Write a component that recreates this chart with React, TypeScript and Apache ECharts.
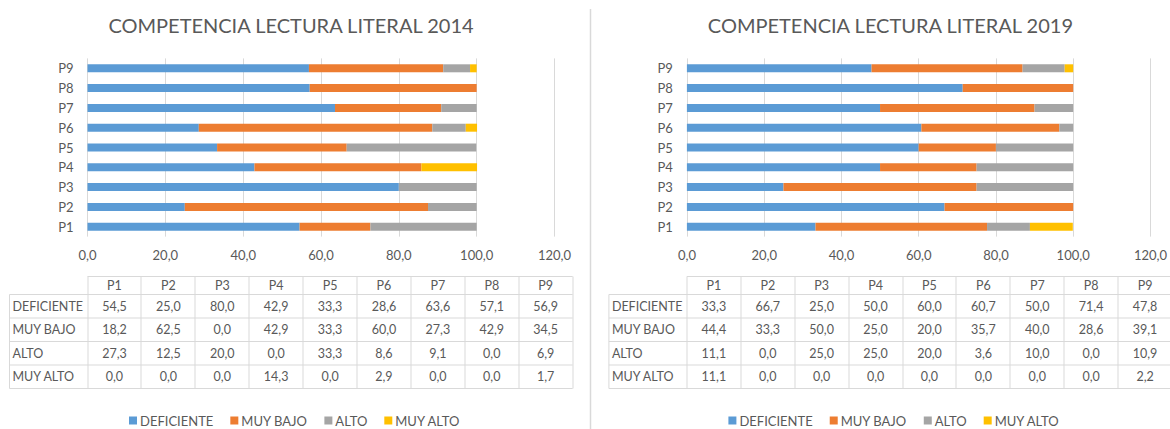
import React, { useEffect, useRef } from "react";
import * as echarts from "echarts";

const categories = ["P1", "P2", "P3", "P4", "P5", "P6", "P7", "P8", "P9"];
const seriesNames = ["DEFICIENTE", "MUY BAJO", "ALTO", "MUY ALTO"];
const seriesColors = ["#5B9BD5", "#ED7D31", "#A5A5A5", "#FFC000"];

const deficiente2014 = [54.5, 25.0, 80.0, 42.9, 33.3, 28.6, 63.6, 57.1, 56.9];
const muyBajo2014 = [18.2, 62.5, 0.0, 42.9, 33.3, 60.0, 27.3, 42.9, 34.5];
const alto2014 = [27.3, 12.5, 20.0, 0.0, 33.3, 8.6, 9.1, 0.0, 6.9];
const muyAlto2014 = [0.0, 0.0, 0.0, 14.3, 0.0, 2.9, 0.0, 0.0, 1.7];

const deficiente2019 = [33.3, 66.7, 25.0, 50.0, 60.0, 60.7, 50.0, 71.4, 47.8];
const muyBajo2019 = [44.4, 33.3, 50.0, 25.0, 20.0, 35.7, 40.0, 28.6, 39.1];
const alto2019 = [11.1, 0.0, 25.0, 25.0, 20.0, 3.6, 10.0, 0.0, 10.9];
const muyAlto2019 = [11.1, 0.0, 0.0, 0.0, 0.0, 0.0, 0.0, 0.0, 2.2];

const titles = ["COMPETENCIA LECTURA LITERAL 2014", "COMPETENCIA LECTURA LITERAL 2019"];

const FONT = "Lato, 'Noto Sans', sans-serif";
const TEXT = "#595959";
const LINE = "#D9D9D9";

const fmt = (v: number) => v.toFixed(1).replace(".", ",");

function buildTable(offsetX: number, rows: number[][]) {
  const els: any[] = [];
  const labelLeft = 9.5 + offsetX;
  const colStart = 87.5 + offsetX;
  const colW = 53.9;
  const colEnd = colStart + colW * categories.length;
  const headTop = 276.5;
  const headBottom = 294.5;
  const rowH = 23.5;
  const rowsY = [0, 1, 2, 3, 4].map((i) => headBottom + i * rowH);
  const line = (x1: number, y1: number, x2: number, y2: number) => ({
    type: "line",
    silent: true,
    shape: { x1, y1, x2, y2 },
    style: { stroke: LINE, lineWidth: 1 },
  });
  els.push(line(colStart, headTop, colEnd, headTop));
  rowsY.forEach((y) => els.push(line(labelLeft, y, colEnd, y)));
  els.push(line(labelLeft, headBottom, labelLeft, rowsY[4]));
  for (let i = 0; i <= categories.length; i++) {
    const x = Math.round(colStart + i * colW) + 0.5 - 0.5;
    els.push(line(x, headTop, x, rowsY[4]));
  }
  const txt = (text: string, x: number, y: number, align: string) => ({
    type: "text",
    silent: true,
    x,
    y,
    style: {
      text,
      fill: TEXT,
      fontSize: 12.5,
      fontFamily: FONT,
      textAlign: align,
      textVerticalAlign: "middle",
      align,
      verticalAlign: "middle",
    },
  });
  categories.forEach((c, i) => {
    els.push(txt(c, colStart + (i + 0.5) * colW, (headTop + headBottom) / 2, "center"));
  });
  seriesNames.forEach((n, r) => {
    const cy = rowsY[r] + rowH / 2;
    els.push(txt(n, labelLeft + 3, cy, "left"));
    rows[r].forEach((v, i) => {
      els.push(txt(fmt(v), colStart + (i + 0.5) * colW, cy, "center"));
    });
  });
  return els;
}

export default function App() {
  const ref = useRef<HTMLDivElement>(null);
  useEffect(() => {
    if (!ref.current) return;
    const chart = echarts.init(ref.current, undefined, { renderer: "svg" });
    const data2014 = [deficiente2014, muyBajo2014, alto2014, muyAlto2014];
    const data2019 = [deficiente2019, muyBajo2019, alto2019, muyAlto2019];
    const offsets = [0, 599.4];

    const grids = offsets.map((o) => ({
      left: 87.5 + o,
      top: 58.4,
      width: 467,
      height: 178.2,
      containLabel: false,
    }));
    const xAxes = offsets.map((_, i) => ({
      type: "value",
      gridIndex: i,
      min: 0,
      max: 120,
      interval: 20,
      axisLine: { show: false },
      axisTick: { show: false },
      splitLine: { show: true, lineStyle: { color: LINE, width: 1 } },
      axisLabel: {
        color: TEXT,
        fontSize: 13,
        fontFamily: FONT,
        margin: 12,
        formatter: (v: number) => fmt(v),
      },
    }));
    const yAxes = offsets.map((_, i) => ({
      type: "category",
      gridIndex: i,
      data: categories,
      axisLine: { show: false },
      axisTick: { show: false },
      splitLine: { show: false },
      axisLabel: { color: TEXT, fontSize: 13, fontFamily: FONT, margin: 14 },
    }));
    const series: any[] = [];
    [data2014, data2019].forEach((dataset, gi) => {
      dataset.forEach((vals, si) => {
        series.push({
          type: "bar",
          name: seriesNames[si],
          stack: "s" + gi,
          xAxisIndex: gi,
          yAxisIndex: gi,
          data: vals,
          barWidth: 8,
          itemStyle: { color: seriesColors[si] },
          emphasis: { disabled: true },
        });
      });
    });
    const legends = offsets.map((o) => ({
      left: 129 + o,
      top: 414,
      orient: "horizontal",
      padding: 0,
      itemWidth: 8,
      itemHeight: 8,
      itemGap: 17,
      icon: "rect",
      data: seriesNames,
      textStyle: { color: TEXT, fontSize: 13, fontFamily: FONT, padding: [0, 0, 0, -2] },
    }));

    const graphic: any[] = [];
    titles.forEach((t, i) => {
      graphic.push({
        type: "text",
        silent: true,
        x: 291 + offsets[i],
        y: 25,
        style: {
          text: t,
          fill: TEXT,
          fontSize: 20,
          fontFamily: FONT,
          textAlign: "center",
          textVerticalAlign: "middle",
          align: "center",
          verticalAlign: "middle",
        },
      });
    });
    graphic.push(...buildTable(offsets[0], data2014));
    graphic.push(...buildTable(offsets[1], data2019));
    graphic.push({
      type: "line",
      silent: true,
      shape: { x1: 590.5, y1: 9, x2: 590.5, y2: 429 },
      style: { stroke: LINE, lineWidth: 1.5 },
    });

    chart.setOption({
      animation: false,
      backgroundColor: "#FFFFFF",
      color: seriesColors,
      grid: grids,
      xAxis: xAxes,
      yAxis: yAxes,
      legend: legends,
      series,
      graphic,
    });
    return () => chart.dispose();
  }, []);
  return (
    <div
      ref={ref}
      style={{ position: "fixed", left: 0, top: 0, width: 1170, height: 429 }}
    />
  );
}
